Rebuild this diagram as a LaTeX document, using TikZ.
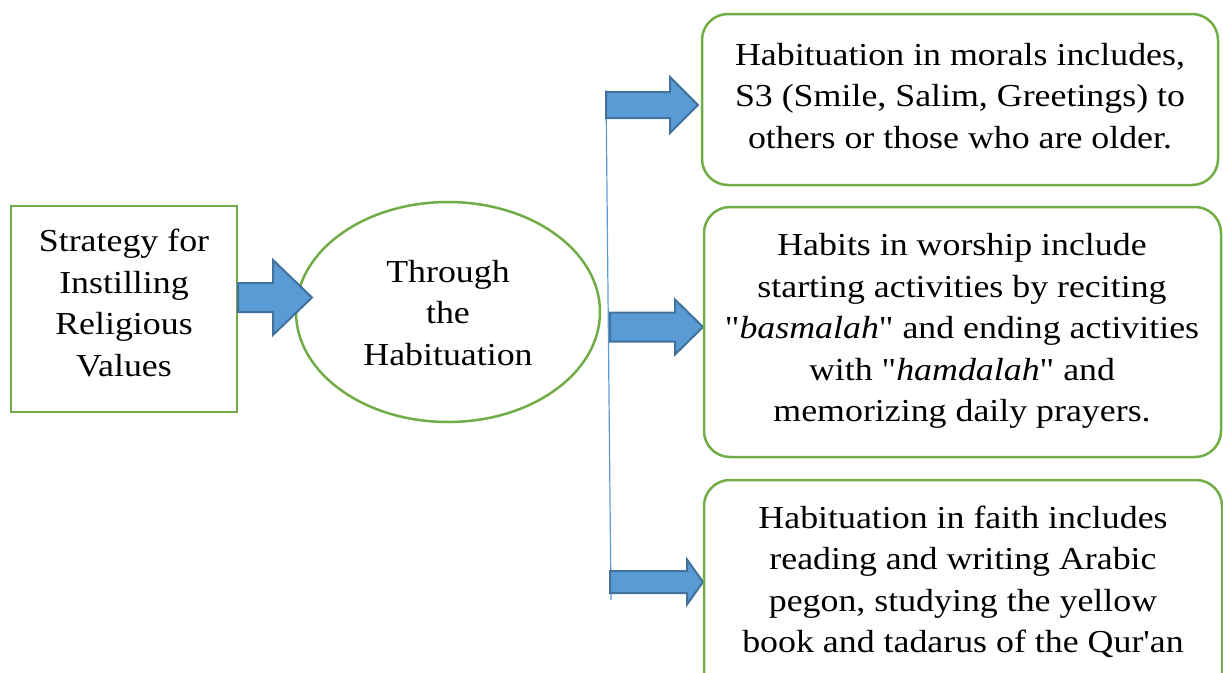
\documentclass[tikz,border=0pt]{standalone}
\usepackage{fontspec}
\newfontfamily\bodyfont{Liberation Serif}[FakeStretch=1.12]
\definecolor{boxgreen}{HTML}{70AD47}
\definecolor{arrowfill}{HTML}{5B9BD5}
\definecolor{arrowline}{HTML}{41719C}
\newcommand\blockarr[6]{%
  \draw[blockarrow] (#1,{#4-#5}) -- (#2,{#4-#5}) -- (#2,{#4-#6}) -- (#3,#4)
    -- (#2,{#4+#6}) -- (#2,{#4+#5}) -- (#1,{#4+#5}) -- cycle;}
\tikzset{
  txt/.style={font=\bodyfont\fontsize{32pt}{41.5pt}\selectfont, align=center, text=black},
  gbox/.style={draw=boxgreen, line width=2.5pt},
  rbox/.style={draw=boxgreen, line width=2.5pt, rounded corners=26pt},
  blockarrow/.style={fill=arrowfill, draw=arrowline, line width=2pt, line join=miter},
  thinline/.style={draw=arrowfill, line width=1.2pt}
}
\begin{document}
\begin{tikzpicture}[x=1pt,y=-1pt]
\useasboundingbox (0,0) rectangle (1223,672);
% left box
\draw[gbox] (11,206) rectangle (237,412);
\node[txt] (strategy) at (124,303) {Strategy for\\Instilling\\Religious\\Values};
% ellipse
\draw[gbox] (448,312) ellipse [x radius=152, y radius=110];
\node[txt] (through) at (448,313) {Through\\the\\Habituation};
% vertical line
\coordinate (vtop) at (606,90);
\coordinate (vbot) at (611,600);
\draw[thinline] (vtop) -- (vbot);
% block arrows
\blockarr{238}{273}{312}{297.5}{14.5}{37.5}
\blockarr{606}{670}{698}{105}{13}{28}
\blockarr{610}{675}{703}{327}{14.5}{27.5}
\blockarr{610}{687}{703}{582}{11}{22.5}
% right boxes
\draw[rbox] (702,14) rectangle (1218,185);
\node[txt] (morals) at (960,96) {Habituation in morals includes,\\S3 (Smile, Salim, Greetings) to\\others or those who are older.};
\draw[rbox] (704,207) rectangle (1221,457);
\node[txt] (worship) at (962,331) {Habits in worship include\\starting activities by reciting\\"{\itshape basmalah}" and ending activities\\with "{\itshape hamdalah}" and\\memorizing daily prayers.};
\draw[rbox] (704,480) rectangle (1222,700);
\node[txt] (faith) at (963,582) {Habituation in faith includes\\reading and writing Arabic\\pegon, studying the yellow\\book and tadarus of the Qur'an};
\end{tikzpicture}
\end{document}
